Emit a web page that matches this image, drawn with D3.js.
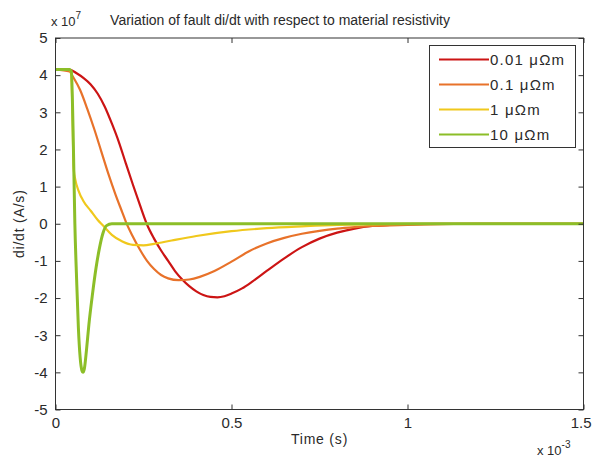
<!DOCTYPE html>
<html><head><meta charset="utf-8">
<script src="https://cdn.jsdelivr.net/npm/d3@7"></script>
<style>
body{margin:0;background:#fff;}
text{font-family:"Liberation Sans",Arial,sans-serif;fill:#2a2a2a;}
</style></head>
<body>
<svg id="chart" width="593" height="457"></svg>
<script>
// time in ms (x 1e-3 s), value in 1e7 A/s
const seriesNames = ["0.01 \u03bc\u03a9m", "0.1 \u03bc\u03a9m", "1 \u03bc\u03a9m", "10 \u03bc\u03a9m"];
const seriesColors = ["#cc1414", "#e8722a", "#f0c81c", "#8cbe28"];
const red_t = [0,0.04,0.06,0.08,0.1,0.12,0.14,0.16,0.18,0.2,0.22,0.24,0.26,0.28,0.3,0.32,0.34,0.36,0.38,0.4,0.42,0.44,0.46,0.48,0.5,0.53,0.56,0.6,0.65,0.7,0.75,0.8,0.85,0.9,0.95,1.0,1.1,1.5];
const red_v = [4.15,4.15,4.05,3.92,3.75,3.5,3.15,2.7,2.2,1.62,1.05,0.5,-0.02,-0.4,-0.72,-1.0,-1.28,-1.5,-1.68,-1.82,-1.92,-1.97,-1.98,-1.95,-1.88,-1.74,-1.55,-1.27,-0.93,-0.63,-0.4,-0.24,-0.13,-0.06,-0.03,-0.01,0,0];
const orange_t = [0,0.04,0.05,0.07,0.09,0.11,0.13,0.15,0.17,0.19,0.2,0.22,0.24,0.26,0.28,0.3,0.32,0.35,0.38,0.41,0.45,0.5,0.55,0.6,0.65,0.7,0.75,0.8,0.85,0.9,1.0,1.1,1.2,1.5];
const orange_v = [4.15,4.1,3.95,3.6,3.1,2.55,1.95,1.35,0.8,0.3,0.05,-0.35,-0.7,-1.0,-1.22,-1.38,-1.47,-1.52,-1.5,-1.43,-1.28,-1.02,-0.74,-0.53,-0.38,-0.27,-0.19,-0.13,-0.09,-0.06,-0.03,-0.01,0,0];
const yellow_t = [0,0.04,0.045,0.052,0.056,0.065,0.08,0.1,0.12,0.135,0.16,0.19,0.22,0.25,0.28,0.33,0.4,0.5,0.6,0.7,0.8,0.9,1.0,1.5];
const yellow_v = [4.15,4.15,4.0,1.45,1.2,0.9,0.6,0.35,0.1,-0.05,-0.3,-0.48,-0.57,-0.58,-0.54,-0.45,-0.33,-0.2,-0.12,-0.07,-0.03,-0.015,-0.005,0];
const green_t = [0,0.04,0.045,0.05,0.055,0.06,0.065,0.07,0.075,0.078,0.082,0.088,0.095,0.105,0.115,0.125,0.135,0.145,0.16,1.5];
const green_v = [4.15,4.15,4.1,2.5,0,-1.5,-2.8,-3.6,-3.95,-4.0,-3.9,-3.4,-2.7,-1.9,-1.2,-0.65,-0.25,-0.05,0,0];
const xTicks = [0,0.5,1,1.5];
const xTickLabels = ["0","0.5","1","1.5"];
const yTicks = [-5,-4,-3,-2,-1,0,1,2,3,4,5];
const yTickLabels = ["-5","-4","-3","-2","-1","0","1","2","3","4","5"];
const titleText = "Variation of fault di/dt with respect to material resistivity";
const xLabel = "Time (s)";
const yLabel = "di/dt (A/s)";

const series = [
  {t:red_t, v:red_v},{t:orange_t, v:orange_v},{t:yellow_t, v:yellow_v},{t:green_t, v:green_v}
];

const svg = d3.select("#chart");
const L=55.5, R=583.5, T=38, B=409.5;
const x = d3.scaleLinear().domain([0,1.5]).range([L,R]);
const y = d3.scaleLinear().domain([-5,5]).range([B,T]);

// curves
const line = d3.line().x(d=>x(d[0])).y(d=>y(d[1])).curve(d3.curveMonotoneX);
series.forEach((s,i)=>{
  const pts = s.t.map((t,j)=>[t,s.v[j]]);
  svg.append("path").attr("d", line(pts)).attr("fill","none")
    .attr("stroke", seriesColors[i]).attr("stroke-width", i===3?3:2.2)
    .attr("stroke-linejoin","round");
});

// frame
svg.append("rect").attr("x",L).attr("y",T).attr("width",R-L).attr("height",B-T)
  .attr("fill","none").attr("stroke","#333").attr("stroke-width",1);

// axes with inward ticks
const fmtX = d=>xTickLabels[xTicks.indexOf(d)];
const fmtY = d=>yTickLabels[yTicks.indexOf(d)];
const xb = svg.append("g").attr("transform",`translate(0,${B})`)
  .call(d3.axisBottom(x).tickValues(xTicks).tickFormat(fmtX).tickSizeInner(-5).tickSizeOuter(0).tickPadding(8));
const xt = svg.append("g").attr("transform",`translate(0,${T})`)
  .call(d3.axisTop(x).tickValues(xTicks).tickFormat("").tickSizeInner(-5).tickSizeOuter(0));
const yl = svg.append("g").attr("transform",`translate(${L},0)`)
  .call(d3.axisLeft(y).tickValues(yTicks).tickFormat(fmtY).tickSizeInner(-5).tickSizeOuter(0).tickPadding(8));
const yr = svg.append("g").attr("transform",`translate(${R},0)`)
  .call(d3.axisRight(y).tickValues(yTicks).tickFormat("").tickSizeInner(-5).tickSizeOuter(0));
[xb,xt,yl,yr].forEach(g=>{
  g.select(".domain").remove();
  g.selectAll("line").attr("stroke","#333");
  g.selectAll("text").style("font-size","15px")
    .style("font-family","'Liberation Sans',Arial,sans-serif").attr("fill","#2a2a2a");
});
// keep the last x label inside the picture
xb.selectAll("text").filter(d=>d===1.5).attr("text-anchor","end").attr("dx",7.5);

// exponents
const e1 = svg.append("text").attr("x",51).attr("y",26).style("font-size","13px");
e1.append("tspan").text("x 10");
e1.append("tspan").attr("dy",-7).style("font-size","10px").text("7");
const e2 = svg.append("text").attr("x",537).attr("y",455).style("font-size","13px");
e2.append("tspan").text("x 10");
e2.append("tspan").attr("dy",-7).style("font-size","10px").text("-3");

// title and labels
svg.append("text").attr("x",280).attr("y",25).attr("text-anchor","middle").style("font-size","14px").text(titleText);
svg.append("text").attr("x",(L+R)/2).attr("y",444).attr("text-anchor","middle").style("font-size","14px").style("letter-spacing","0.8px").text(xLabel);
svg.append("text").attr("transform",`translate(24,${(T+B)/2}) rotate(-90)`).attr("text-anchor","middle").style("font-size","14px").style("letter-spacing","0.8px").text(yLabel);

// legend
const lg = svg.append("g");
lg.append("rect").attr("x",429.5).attr("y",45.5).attr("width",146).attr("height",102)
  .attr("fill","#fff").attr("stroke","#333");
seriesNames.forEach((n,i)=>{
  const yy = 59.5 + i*25;
  lg.append("line").attr("x1",439).attr("x2",489).attr("y1",yy).attr("y2",yy)
    .attr("stroke",seriesColors[i]).attr("stroke-width",2.2);
  lg.append("text").attr("x",490).attr("y",yy+5.5).style("font-size","15px").style("letter-spacing","1.2px").text(n);
});
</script>
</body></html>
